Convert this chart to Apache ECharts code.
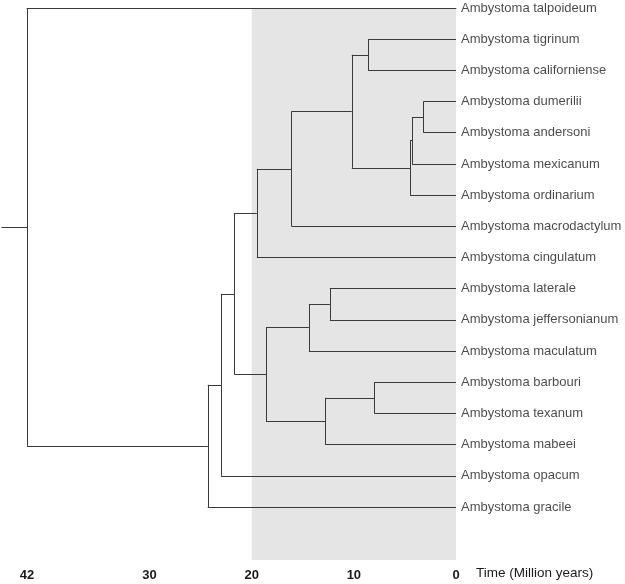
<!DOCTYPE html>
<html>
<head>
<meta charset="utf-8">
<script src="https://cdn.jsdelivr.net/npm/echarts@6/dist/echarts.min.js"></script>
<style>
html,body{margin:0;padding:0;background:#fff;}
#chart{width:625px;height:584px;}
</style>
</head>
<body>
<div id="chart"></div>
<script>
// Tip taxa, top to bottom
var taxa = ['Ambystoma talpoideum', 'Ambystoma tigrinum', 'Ambystoma californiense',
  'Ambystoma dumerilii', 'Ambystoma andersoni', 'Ambystoma mexicanum', 'Ambystoma ordinarium',
  'Ambystoma macrodactylum', 'Ambystoma cingulatum', 'Ambystoma laterale',
  'Ambystoma jeffersonianum', 'Ambystoma maculatum', 'Ambystoma barbouri',
  'Ambystoma texanum', 'Ambystoma mabeei', 'Ambystoma opacum', 'Ambystoma gracile'];
// Tip ages (Million years)
var tipAges = [0, 0, 0, 0, 0, 0, 0, 0, 0, 0, 0, 0, 0, 0, 0, 0, 0];
// Internal nodes k = 0..15 (id 17 + k); children are tip indices (0-16) or node ids (17+)
var nodeChildA = [3, 17, 18, 1, 20, 21, 22, 9, 24, 12, 26, 25, 23, 29, 30, 0];
var nodeChildB = [4, 5, 6, 2, 19, 7, 8, 10, 11, 13, 14, 27, 28, 15, 16, 31];
// Internal node ages (Million years)
var nodeAges = [3.2, 4.3, 4.5, 8.6, 10.2, 16.1, 19.5, 12.35, 14.4, 8.0, 12.8, 18.6, 21.7, 23.0, 24.3, 42];
var rootStemAge = 44.5;
// Axis tick labels
var tickValues = [0, 10, 20, 30, 42];
var axisTitle = 'Time (Million years)';
</script>
<script>
var FONT = 'Liberation Sans, Arial, Helvetica, sans-serif';
var nTips = taxa.length;
var ys = [], ages = [];
for (var i = 0; i < nTips; i++) { ys[i] = i; ages[i] = tipAges[i]; }
for (var k = 0; k < nodeAges.length; k++) {
  var a = nodeChildA[k], b = nodeChildB[k];
  ys[nTips + k] = (ys[a] + ys[b]) / 2;
  ages[nTips + k] = nodeAges[k];
}
var segs = [];
for (var k = 0; k < nodeAges.length; k++) {
  var id = nTips + k, a = nodeChildA[k], b = nodeChildB[k];
  segs.push({coords: [[ages[id], ys[a]], [ages[id], ys[b]]]});
  segs.push({coords: [[ages[id], ys[a]], [ages[a], ys[a]]]});
  segs.push({coords: [[ages[id], ys[b]], [ages[b], ys[b]]]});
}
var rootId = nTips + nodeAges.length - 1;
segs.push({coords: [[rootStemAge, ys[rootId]], [ages[rootId], ys[rootId]]]});

var tipPoints = taxa.map(function (t, i) { return {value: [tipAges[i], i], name: t}; });

var chart = echarts.init(document.getElementById('chart'));
chart.setOption({
  animation: false,
  backgroundColor: '#fff',
  title: {
    text: axisTitle, left: 476, top: 566, padding: 0,
    textStyle: {color: '#1a1a1a', fontSize: 13.5, fontWeight: 'normal', fontFamily: FONT}
  },
  grid: {left: 27, right: 169, top: 8, bottom: 24},
  xAxis: {
    type: 'value', inverse: true, min: 0, max: 42,
    axisLine: {show: true, lineStyle: {color: '#555', width: 1}},
    axisTick: {show: false},
    splitLine: {show: false},
    axisLabel: {
      customValues: tickValues, color: '#1a1a1a', fontSize: 13, fontWeight: 'bold',
      fontFamily: FONT, margin: 9
    }
  },
  yAxis: {type: 'value', inverse: true, min: 0, max: 17.7, show: false},
  series: [
    {
      type: 'lines', coordinateSystem: 'cartesian2d', clip: false, silent: true,
      lineStyle: {color: '#3a3a3a', width: 1, opacity: 1},
      data: segs,
      markArea: {
        silent: true,
        itemStyle: {color: '#e5e5e5'},
        data: [[{xAxis: 20, yAxis: 0}, {xAxis: 0, yAxis: 17.7}]]
      },
      z: 3
    },
    {
      type: 'scatter', symbolSize: 0, silent: true, z: 4,
      data: tipPoints,
      label: {
        show: true, position: 'right', distance: 5,
        formatter: function (p) { return p.name; },
        color: '#1a1a1a', fontSize: 13, fontFamily: FONT
      }
    }
  ]
});
</script>
</body>
</html>
